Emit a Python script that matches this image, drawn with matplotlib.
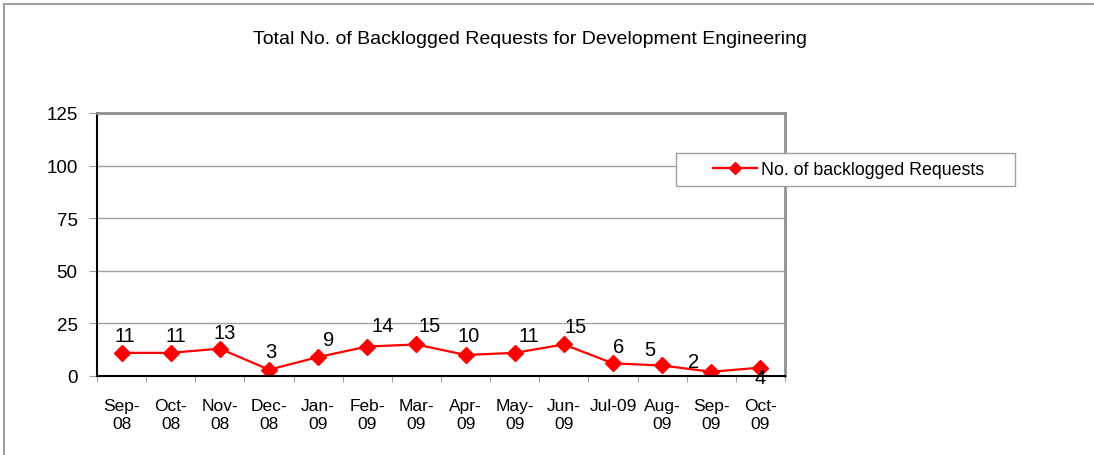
import matplotlib.pyplot as plt
from matplotlib.lines import Line2D
from matplotlib.patches import Rectangle

plt.rcParams['font.family'] = ['Liberation Sans', 'DejaVu Sans']

# Dados
meses = ["Sep-\n08", "Oct-\n08", "Nov-\n08", "Dec-\n08", "Jan-\n09", "Feb-\n09", "Mar-\n09",
         "Apr-\n09", "May-\n09", "Jun-\n09", "Jul-09", "Aug-\n09", "Sep-\n09", "Oct-\n09"]
backlog = [11, 11, 13, 3, 9, 14, 15, 10, 11, 15, 6, 5, 2, 4]
y_ticks = [0, 25, 50, 75, 100, 125]

# deslocamento das etiquetas (pixels)
label_off = [(3, 17), (5, 17), (5, 16), (2, 18), (10, 18), (15, 21), (13, 19),
             (3, 19), (14, 17), (12, 18), (6, 17), (-12, 16), (-18, 10), (0, -10)]

W, H = 1094, 456
fig = plt.figure(figsize=(W / 100, H / 100), dpi=100)

# moldura exterior (só topo e esquerda)
fig.add_artist(Line2D([4 / W, 1.0], [1 - 5 / H, 1 - 5 / H], color="#a0a0a0", lw=1.5))
fig.add_artist(Line2D([4 / W, 4 / W], [0, 1 - 5 / H], color="#a0a0a0", lw=1.5))

ax = fig.add_axes([97 / W, 1 - 377 / H, 688 / W, 263 / H])

x = list(range(len(backlog)))
ax.plot(x, backlog, color="#ff0000", lw=1.6, marker="D", markersize=8,
        markerfacecolor="#ff0000", markeredgecolor="#ff0000", label="No. of backlogged Requests")

for xi, v, (dx, dy) in zip(x, backlog, label_off):
    ax.annotate(str(v), (xi, v), xytext=(dx, dy), textcoords="offset pixels",
                ha="center", va="center", fontsize=14.5)

ax.set_xlim(-0.5, len(backlog) - 0.5)
ax.set_ylim(0, 125)
ax.set_yticks(y_ticks)
ax.yaxis.grid(True, color="#a0a0a0", lw=1)
ax.set_axisbelow(True)

ax.set_xticks([i - 0.5 for i in range(len(backlog) + 1)])
ax.set_xticklabels([])
ax.set_xticks(x, minor=True)
ax.set_xticklabels(meses, minor=True, fontsize=12.5, linespacing=1.25)
ax.tick_params(axis="x", which="major", length=4, color="#a0a0a0")
ax.tick_params(axis="x", which="minor", length=0, pad=16)
ax.tick_params(axis="y", length=6, color="#a0a0a0", labelsize=13.5, pad=8)

ax.spines["left"].set_color("black")
ax.spines["bottom"].set_color("black")
ax.spines["left"].set_linewidth(1.5)
ax.spines["bottom"].set_linewidth(1.5)
ax.spines["top"].set_color("#909090")
ax.spines["right"].set_color("#909090")
ax.spines["top"].set_linewidth(2)
ax.spines["right"].set_linewidth(2)

fig.text(530 / W, 1 - 40 / H, "Total No. of Backlogged Requests for Development Engineering",
         ha="center", va="center", fontsize=14)

# caixa da legenda
fig.add_artist(Rectangle((676 / W, 1 - 187 / H), 339 / W, 33 / H, transform=fig.transFigure,
                         facecolor="white", edgecolor="#a0a0a0", lw=1, zorder=5))
leg = fig.legend(loc="center left", bbox_to_anchor=(713 / W, 1 - 170.5 / H), fontsize=12.8,
                 frameon=False, handlelength=2.5, handletextpad=0.2, borderpad=0,
                 borderaxespad=0, markerscale=0.8)
leg.set_zorder(6)

plt.savefig("out.png", dpi=100)
